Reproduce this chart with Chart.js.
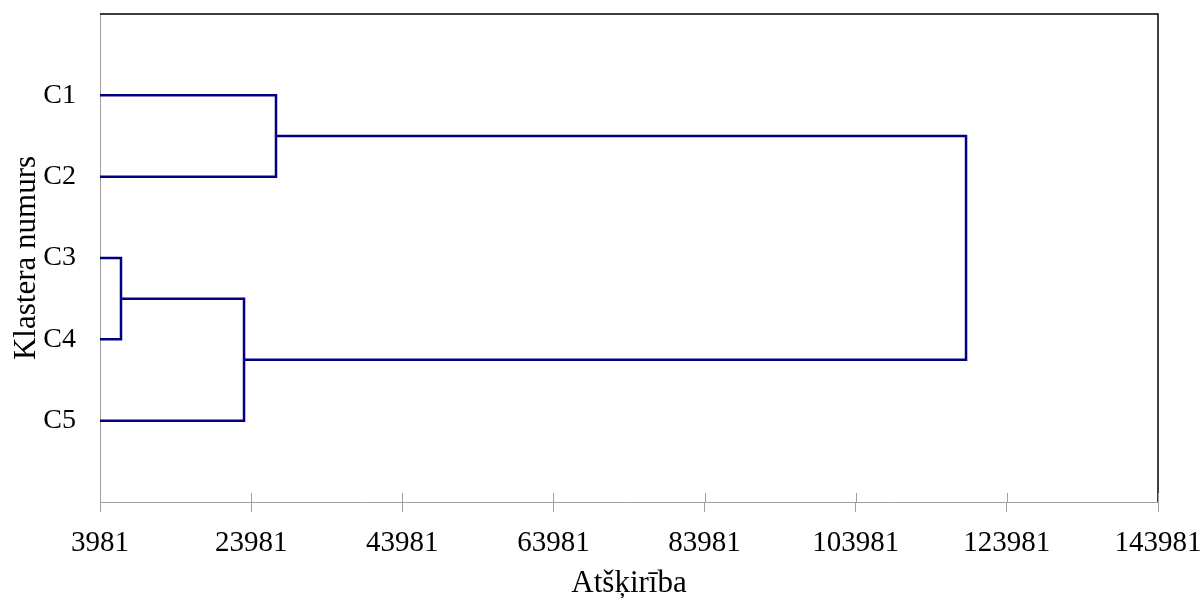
<!DOCTYPE html>
<html>
<head>
<meta charset="utf-8">
<script src="https://cdn.jsdelivr.net/npm/chart.js@4/dist/chart.umd.min.js"></script>
<style>
    body { margin: 0; background: #fff; }
    #wrap { width: 1204px; height: 598px; }
</style>
</head>
<body>
<div id="wrap"><canvas id="dendro"></canvas></div>
<script>
// klasteru dendrogramma
const clusters = ["C1", "C2", "C3", "C4", "C5"];
const linkLeft = ["C3", "C1", "C3+C4", "C1+C2"];
const linkRight = ["C4", "C2", "C5", "C3+C4+C5"];
const linkHeight = [6760, 27270, 23040, 118580];
const xTicks = [3981, 23981, 43981, 63981, 83981, 103981, 123981, 143981];

const lineColor = "#000080";
const axisColor = "#a0a0a0";

// katra mezgla pozīcija (y = vidējais no bērniem, x = apvienošanas attālums)
const nodes = {};
clusters.forEach((c, i) => { nodes[c] = { y: i + 1, x: xTicks[0] }; });

const datasets = [];
for (let i = 0; i < linkLeft.length; i++) {
    const a = nodes[linkLeft[i]];
    const b = nodes[linkRight[i]];
    const h = linkHeight[i];
    datasets.push({
        data: [
            { x: a.x, y: a.y },
            { x: h, y: a.y },
            { x: h, y: b.y },
            { x: b.x, y: b.y },
        ],
        borderColor: lineColor,
        borderWidth: 2.5,
        pointRadius: 0,
        showLine: true,
        fill: false,
    });
    let name = linkLeft[i] + "+" + linkRight[i];
    nodes[name] = { y: (a.y + b.y) / 2, x: h };
}

// rāmis un iekšējās ass atzīmes
const framePlugin = {
    id: "frame",
    afterDraw(chart) {
        const { ctx, chartArea } = chart;
        const xs = chart.scales.x;
        ctx.save();
        ctx.strokeStyle = "#000";
        ctx.lineWidth = 1.5;
        ctx.beginPath();
        ctx.moveTo(chartArea.left, chartArea.top);
        ctx.lineTo(chartArea.right, chartArea.top);
        ctx.lineTo(chartArea.right, chartArea.bottom);
        ctx.stroke();
        ctx.strokeStyle = axisColor;
        ctx.lineWidth = 1;
        xTicks.forEach(v => {
            const px = Math.round(xs.getPixelForValue(v)) + 0.5;
            ctx.beginPath();
            ctx.moveTo(px, chartArea.bottom - 9);
            ctx.lineTo(px, chartArea.bottom);
            ctx.stroke();
        });
        ctx.restore();
    }
};

const family = "'Liberation Serif', 'Times New Roman', serif";
const tickFont = { family, size: 29 };
const titleFont = { family, size: 31 };

new Chart(document.getElementById("dendro"), {
    type: "scatter",
    data: { datasets },
    plugins: [framePlugin],
    options: {
        responsive: true,
        maintainAspectRatio: false,
        animation: false,
        layout: { padding: { top: 14, right: 46, left: 0, bottom: 0 } },
        plugins: { legend: { display: false }, tooltip: { enabled: false } },
        scales: {
            x: {
                type: "linear",
                min: xTicks[0],
                max: xTicks[xTicks.length - 1],
                afterBuildTicks: scale => { scale.ticks = xTicks.map(v => ({ value: v })); },
                afterFit: scale => { scale.height = 96; scale.paddingLeft = 0; scale.paddingRight = 0; },
                ticks: { color: "#000", font: tickFont, padding: 14, maxRotation: 0, autoSkip: false, callback: v => String(v) },
                grid: { drawOnChartArea: false, color: axisColor, tickLength: 10 },
                border: { color: axisColor, width: 1 },
                title: { display: true, text: "Atšķirība", color: "#000", font: titleFont, padding: { top: 0, bottom: -4 } },
            },
            y: {
                type: "linear",
                min: 0,
                max: 6,
                reverse: true,
                afterBuildTicks: scale => { scale.ticks = clusters.map((c, i) => ({ value: i + 1 })); },
                afterFit: scale => { scale.width = 100; scale.paddingTop = 0; scale.paddingBottom = 0; },
                ticks: { color: "#000", font: { family, size: 28 }, padding: 24, callback: v => clusters[v - 1] || "" },
                grid: { drawOnChartArea: false, drawTicks: false, color: axisColor },
                border: { color: axisColor, width: 1 },
                title: { display: true, text: "Klastera numurs", color: "#000", font: titleFont, padding: { top: 8, bottom: 0 } },
            },
        },
    },
});
</script>
</body>
</html>
